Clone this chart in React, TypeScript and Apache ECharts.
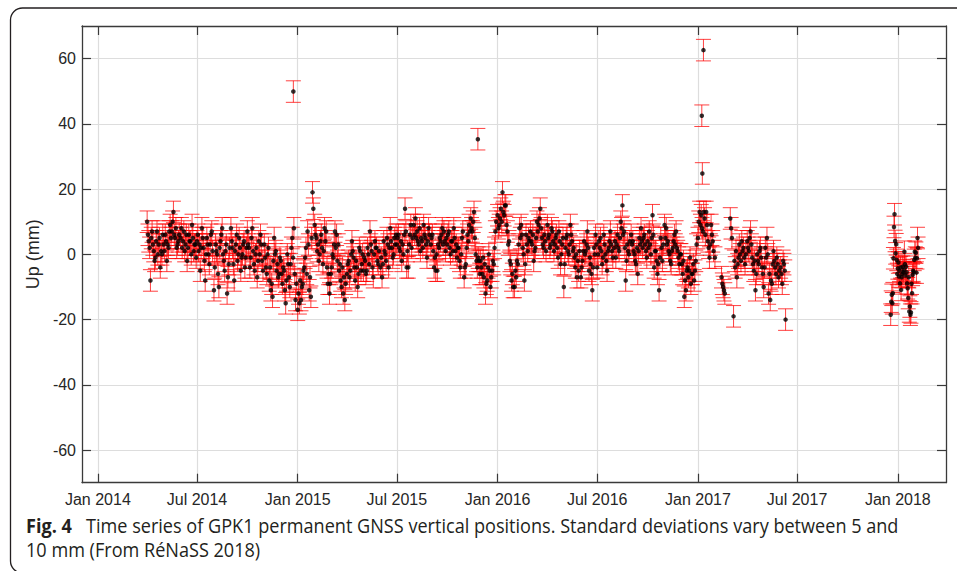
import { useEffect, useRef } from "react";
import * as echarts from "echarts";

// ---- axis ticks ----
const xTickDates = ["2014-01-01", "2014-07-01", "2015-01-01", "2015-07-01", "2016-01-01", "2016-07-01", "2017-01-01", "2017-07-01", "2018-01-01"];
const xTickLabels = ["Jan 2014", "Jul 2014", "Jan 2015", "Jul 2015", "Jan 2016", "Jul 2016", "Jan 2017", "Jul 2017", "Jan 2018"];
const yTicks = [-60, -40, -20, 0, 20, 40, 60];
const xRange = ["2013-12-03", "2018-03-30"];
const yRange = [-70, 70];

// ---- data: vertical position (mm), sampled every 1.5 days within each month ----
const SAMPLE_STEP_DAYS = 1.5;
const SIGMA_MM = 3.3;

const months2014 = ["2014-04", "2014-05", "2014-06", "2014-07", "2014-08", "2014-09", "2014-10", "2014-11", "2014-12"];
const up2014 = [
  [10, 6, 4, 2, -8, 5, 7, 3, 1, -2, -1, 4, 7, 0, 3, 5, -4, 1, 0, 6],
  [3, 1, 6, 4, -2, 3, 2, 7, 9, 5, 7, 10, 13, 6, 5, 8, 2, 3, 4, 6],
  [5, 8, 2, 4, 7, 1, 3, 6, -2, 2, 6, 4, 4, 0, 9, 5, 1, 3, 3, -1],
  [4, 6, 1, 3, -5, 2, 8, 5, 2, -2, -8, 0, 5, 3, 0, -3, 3, 6, 7, 1],
  [-11, -4, 3, 1, 0, -6, -10, 2, 4, 6, 8, 0, -2, -5, 1, 3, -12, -7, -3, 2],
  [8, 4, 2, -3, -8, 1, 3, 6, -2, 0, 5, 2, -5, -1, 0, 3, 4, -4, -1, 2],
  [7, 3, 2, -4, -1, 5, 8, 1, -3, -5, 0, 2, -7, -2, 4, 0, 6, 3, -2, -5],
  [3, -1, -4, -6, 0, 2, -8, -4, -11, -9, -13, -2, 5, 0, 1, -5, -3, -7, -6, -1],
  [-2, -6, -9, -4, -5, -11, -15, -8, 0, -3, -7, -10, -3, 2, 5, -1, 8, -6, -14, -9],
];

const months2015 = ["2015-01", "2015-02", "2015-03", "2015-04", "2015-05", "2015-06", "2015-07", "2015-08", "2015-09", "2015-10", "2015-11", "2015-12"];
const up2015 = [
  [-17, -12, -15, -8, -14, -10, -9, -5, -4, -1, 2, -6, 7, 3, -11, -7, -13, 5, 19, 14],
  [9, 6, 5, 1, 3, -2, 0, 4, 6, 2, -3, 1, 8, 4, 7, -4, -9, -6, -12],
  [-9, -6, -4, 0, -1, 3, 7, 2, 6, -2, 3, -5, -3, -8, -10, -4, -12, -7, -14, -9],
  [-6, -3, -2, -7, -5, 0, 4, 1, -1, -4, -8, -2, -4, -10, -6, 2, 1, -5, -3, 0],
  [-5, -1, -2, -6, -5, 2, 0, -3, 7, 3, 1, -4, -7, 0, 4, 2, 2, -2, -3, 1],
  [-4, -1, -7, -3, 4, 1, 0, -2, 5, 3, -4, 2, 8, 4, 2, -1, 0, 5, 3, 6],
  [3, 5, 6, 2, 1, 4, -2, 3, 0, 6, 14, 7, -4, 1, -4, 3, 6, 9, 2, 5],
  [9, 6, 11, 5, 7, 4, 3, 8, 1, 5, 4, 2, 9, 6, 5, 3, -1, 4, 8, 6],
  [3, 5, 6, 1, -4, -1, -5, 0, -5, 3, 2, 5, 4, 6, 8, 3, 7, 4, 1, 5],
  [3, 6, 7, 2, 0, 4, 4, 1, 8, 5, 1, 3, -1, 2, 2, -2, -4, 0, 5, 7],
  [-7, -4, -3, 2, 6, 4, 9, 7, 11, 8, 7, 10, 13, 5, 0, -2, -4, -1, -2, -6],
  [-2, -4, -6, -1, -7, -3, -12, -9, -8, -4, 0, -5, -10, -7, -5, -2, -3, 2, 7, 10],
];

const months2016 = ["2016-01", "2016-02", "2016-03", "2016-04", "2016-05", "2016-06", "2016-07", "2016-08", "2016-09", "2016-10", "2016-11", "2016-12"];
const up2016 = [
  [12, 8, 9, 11, 14, 10, 19, 13, 12, 15, 15, 9, 7, 3, 4, -2, -3, -8, -6, -10],
  [-10, -5, -7, -2, -3, 3, 8, 5, 9, 6, 2, 0, -8, -3, 6, 3, 1, 5, 4],
  [7, 4, 3, 6, -2, 1, 2, 5, 10, 7, 9, 11, 14, 8, 5, 3, 2, 6, 4, 1],
  [9, 5, 6, 2, 3, 8, 7, 4, 1, 3, 5, 6, 2, -1, 7, 4, -3, 0, 3, 5],
  [-10, -3, 2, 5, 6, 1, 0, 3, 9, 6, 4, 1, 2, -1, -4, 0, -7, -2, -5, 1],
  [-7, -4, -2, 1, 4, 0, 1, 3, 7, 2, -5, -1, -3, -6, -11, -4, 2, 0, 6, 3],
  [-4, 0, 4, 2, 5, 1, -3, -1, 6, 3, 0, -2, -5, 1, 2, 4, 7, 3, 1, -1],
  [2, 4, -1, 3, 6, 2, 1, 5, 10, 8, 15, 6, 7, 2, -8, -2, 3, 1, 0, 4],
  [6, 3, 4, 1, 0, -2, -3, 2, -6, 1, 5, 3, 8, 4, 2, 5, 6, 3, 1, -1],
  [4, 2, 7, 3, 0, 5, 12, 6, -4, 1, 1, -2, -6, -3, -11, -1, 5, 2, -2, 3],
  [9, 5, 8, 3, 4, 1, 0, -2, -3, 1, 2, 4, 6, 3, 7, 2, 1, -1, -3, 0],
  [0, -3, -6, -2, -13, -8, -11, -5, -4, -7, -5, -1, -9, -6, -6, -3, -8, -5, -2, 3],
];

const months2017 = ["2017-01", "2017-02", "2017-03", "2017-04", "2017-05", "2017-06"];
const up2017: (number | null)[][] = [
  [5, 10, 13, 9, 12, 8, 7, 13, 11, 6, 13, 9, 4, 2, -1, 3, 9, 6, 4, 1],
  [-1, null, null, null, null, null, null, null, -7, -9, -10, -11, -12, null, null, null, null, null, null],
  [11, 8, 5, null, -19, -2, -4, 1, -7, -3, -1, 3, 0, -2, 4, 1, 2, -1, -3, 0],
  [4, 2, 1, 5, 7, 3, -1, -3, -5, -2, -11, -6, 0, -2, -3, 1, 2, -1, -4, -6],
  [-10, -4, 2, -1, 5, 0, -12, -6, -14, -8, -9, -3, 1, -2, -4, -6, -1, -3, -7, -5],
  [-4, -6, -9, -2, -3, -5, -20],
];

// winter 2017-2018 segment, daily solutions
const winterStart = "2017-12-19";
const upWinter = [
  -18.5, -14.5, -12.4, -15, -11.9, -1.2, 8.4, 12.3, 4.1, 0.3, 3.1, -1.7, -6, -4.3, -2.5, -6.8, -5, -8.9, -4, -10.9,
  -7, -6, -3.8, -5.5, -4.8, 0.8, -3, -6.5, -3.8, -5.5, -8.9, -10.4, -13.4, -7, -17.5, -16, -18.5, -17.8, -9, -11.9,
  -6.3, -5, -5.5, -1.7, 0.8, -1, 0.5, -5.6, -1.2, 5.0, 2,
];

// isolated outliers
const outlierDates = ["2014-12-24", "2015-11-26", "2017-01-08", "2017-01-09", "2017-01-11"];
const outlierUp = [49.9, 35.3, 42.5, 24.8, 62.6];

const CAPTION_BOLD = "Fig. 4";
const CAPTION_LINE1 = "Time series of GPK1 permanent GNSS vertical positions. Standard deviations vary between 5 and";
const CAPTION_LINE2 = "10 mm (From RéNaSS 2018)";

// ---- helpers ----
const EPOCH = Date.UTC(2014, 0, 1);
function dayOf(iso: string): number {
  const p = iso.split("-").map(Number);
  return (Date.UTC(p[0], p[1] - 1, p[2] || 1) - EPOCH) / 86400000;
}

function buildPoints(): number[][] {
  const pts: number[][] = [];
  const groups: [string[], (number | null)[][]][] = [
    [months2014, up2014],
    [months2015, up2015],
    [months2016, up2016],
    [months2017, up2017],
  ];
  for (const [months, vals] of groups) {
    months.forEach((m, k) => {
      const d0 = dayOf(m + "-01");
      vals[k].forEach((v, i) => {
        if (v !== null) pts.push([d0 + SAMPLE_STEP_DAYS * i, v, SIGMA_MM]);
      });
    });
  }
  const w0 = dayOf(winterStart);
  upWinter.forEach((v, i) => pts.push([w0 + i, v, SIGMA_MM]));
  outlierDates.forEach((d, i) => pts.push([dayOf(d), outlierUp[i], SIGMA_MM]));
  return pts;
}

const AXIS_FONT = "'Liberation Sans', Arial, Helvetica, sans-serif";
const AXIS_COLOR = "#3a3a3a";
const TEXT_COLOR = "#262626";
const CAPTION_FONT = "'Open Sans', 'Noto Sans', sans-serif";
const CAPTION_SCALE = 0.905;

export default function App() {
  const ref = useRef<HTMLDivElement>(null);

  useEffect(() => {
    if (!ref.current) return;
    const chart = echarts.init(ref.current, null, { renderer: "svg" });
    const points = buildPoints();
    const xTickVals = xTickDates.map(dayOf);
    const xMin = dayOf(xRange[0]);
    const xMax = dayOf(xRange[1]);

    const tickStyle = { color: AXIS_COLOR, width: 1.2 };
    const lineStyle = { color: AXIS_COLOR, width: 1.3 };

    const option: any = {
      animation: false,
      backgroundColor: "#ffffff",
      grid: { left: 82, right: 11, top: 26, bottom: 88.3, containLabel: false },
      xAxis: [
        {
          type: "value",
          min: xMin,
          max: xMax,
          position: "bottom",
          axisLine: { show: true, onZero: false, lineStyle },
          axisTick: { show: true, inside: true, length: 9, customValues: xTickVals, lineStyle: tickStyle },
          axisLabel: {
            show: true,
            customValues: xTickVals,
            margin: 9,
            color: TEXT_COLOR,
            fontSize: 16,
            fontFamily: AXIS_FONT,
            formatter: (v: number) => {
              const i = xTickVals.findIndex((t) => Math.abs(t - v) < 0.5);
              return i >= 0 ? xTickLabels[i] : "";
            },
          },
          splitLine: { show: true, lineStyle: { color: "#dddddd", width: 1.2 } },
        },
        {
          type: "value",
          min: xMin,
          max: xMax,
          position: "top",
          axisLine: { show: true, onZero: false, lineStyle },
          axisTick: { show: true, inside: true, length: 9, customValues: xTickVals, lineStyle: tickStyle },
          axisLabel: { show: false },
          splitLine: { show: false },
        },
      ],
      yAxis: [
        {
          type: "value",
          min: yRange[0],
          max: yRange[1],
          position: "left",
          name: "Up (mm)",
          nameLocation: "middle",
          nameRotate: 90,
          nameGap: 31,
          nameTextStyle: { fontSize: 18, color: TEXT_COLOR, fontFamily: AXIS_FONT },
          axisLine: { show: true, onZero: false, lineStyle },
          axisTick: { show: true, inside: true, length: 9, customValues: yTicks, lineStyle: tickStyle },
          axisLabel: { show: true, customValues: yTicks, margin: 6, color: TEXT_COLOR, fontSize: 16, fontFamily: AXIS_FONT },
          splitLine: { show: true, lineStyle: { color: "#dddddd", width: 1.2 } },
        },
        {
          type: "value",
          min: yRange[0],
          max: yRange[1],
          position: "right",
          axisLine: { show: true, onZero: false, lineStyle },
          axisTick: { show: true, inside: true, length: 9, customValues: yTicks, lineStyle: tickStyle },
          axisLabel: { show: false },
          splitLine: { show: false },
        },
      ],
      series: [
        {
          type: "custom",
          xAxisIndex: 0,
          yAxisIndex: 0,
          silent: true,
          z: 2,
          data: points,
          encode: { x: 0, y: 1 },
          renderItem: (_params: any, api: any) => {
            const x = api.value(0);
            const y = api.value(1);
            const e = api.value(2);
            const top = api.coord([x, y + e]);
            const bot = api.coord([x, y - e]);
            const half = 7.5;
            const st = { stroke: "#ff0000", lineWidth: 1, opacity: 0.75 };
            return {
              type: "group",
              children: [
                { type: "line", shape: { x1: top[0], y1: top[1], x2: bot[0], y2: bot[1] }, style: st },
                { type: "line", shape: { x1: top[0] - half, y1: top[1], x2: top[0] + half, y2: top[1] }, style: st },
                { type: "line", shape: { x1: bot[0] - half, y1: bot[1], x2: bot[0] + half, y2: bot[1] }, style: st },
              ],
            };
          },
        },
        {
          type: "scatter",
          xAxisIndex: 0,
          yAxisIndex: 0,
          silent: true,
          z: 3,
          symbol: "circle",
          symbolSize: 4.5,
          itemStyle: { color: "#000000" },
          data: points.map((p) => [p[0], p[1]]),
        },
      ],
      graphic: [
        {
          type: "rect",
          silent: true,
          shape: { x: 10.5, y: 8, width: 970, height: 565, r: 12 },
          style: { fill: "none", stroke: "#231f20", lineWidth: 1.3 },
        },
        {
          type: "text",
          silent: true,
          x: 26,
          y: 526,
          scaleX: CAPTION_SCALE,
          style: { text: CAPTION_BOLD, font: "bold 20px " + CAPTION_FONT, fill: "#231f20", verticalAlign: "middle", align: "left" },
        },
        {
          type: "text",
          silent: true,
          x: 86,
          y: 526,
          scaleX: CAPTION_SCALE,
          style: { text: CAPTION_LINE1, font: "20px " + CAPTION_FONT, fill: "#231f20", verticalAlign: "middle", align: "left" },
        },
        {
          type: "text",
          silent: true,
          x: 26,
          y: 550,
          scaleX: CAPTION_SCALE,
          style: { text: CAPTION_LINE2, font: "20px " + CAPTION_FONT, fill: "#231f20", verticalAlign: "middle", align: "left" },
        },
      ],
    };

    chart.setOption(option);
    return () => chart.dispose();
  }, []);

  return (
    <div
      ref={ref}
      style={{ position: "fixed", left: 0, top: 0, width: 957, height: 571, background: "#fff" }}
    />
  );
}
